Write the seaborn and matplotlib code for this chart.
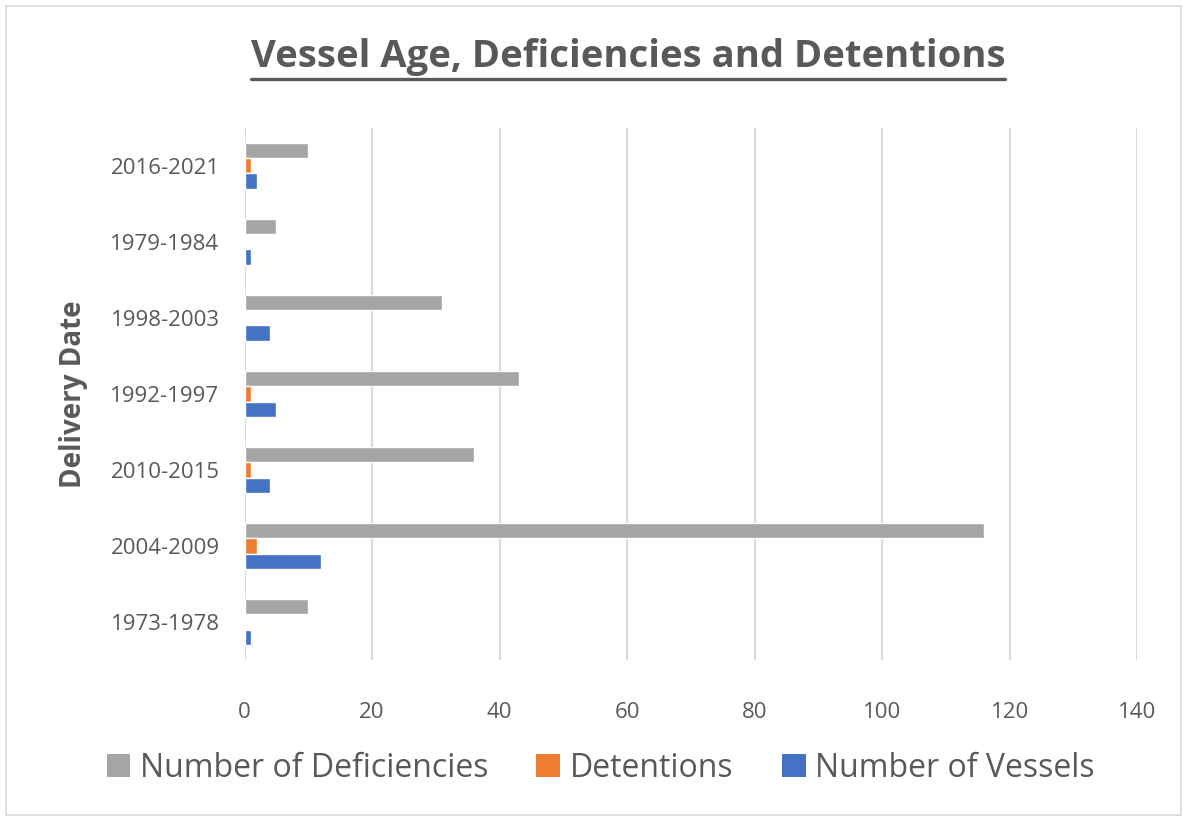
import numpy as np
import pandas as pd
import matplotlib
matplotlib.use("Agg")
import matplotlib.pyplot as plt
from matplotlib.patches import Rectangle, Patch
from matplotlib.lines import Line2D
import seaborn as sns

# Data
periods = ["2016-2021", "1979-1984", "1998-2003", "1992-1997",
           "2010-2015", "2004-2009", "1973-1978"]
deficiencies = [10, 5, 31, 43, 36, 116, 10]
detentions = [1, 0, 0, 1, 1, 2, 0]
vessels = [2, 1, 4, 5, 4, 12, 1]

series = ["Number of Deficiencies", "Detentions", "Number of Vessels"]
colors = ["#A5A5A5", "#ED7D31", "#4472C4"]

df = pd.DataFrame({
    "period": periods * 3,
    "series": np.repeat(series, len(periods)),
    "value": deficiencies + detentions + vessels,
})

sns.set_style("white")
plt.rcParams['font.family'] = ['Open Sans', 'DejaVu Sans']

fig = plt.figure(figsize=(11.87, 8.19), dpi=100)
ax = fig.add_axes([0.206, 0.194, 0.752, 0.650])

sns.barplot(data=df, y="period", x="value", hue="series", order=periods,
            hue_order=series, palette=colors, orient="h", width=0.6,
            saturation=1, ax=ax, legend=False)

ax.set_xlim(0, 140)
ax.set_xticks(range(0, 141, 20))
ax.grid(axis='x', color='#D9D9D9', linewidth=1.5)
ax.set_axisbelow(True)
for s in ax.spines.values():
    s.set_visible(False)
ax.tick_params(axis='both', length=0, labelsize=16, colors='#595959')
ax.tick_params(axis='x', pad=30)
ax.tick_params(axis='y', pad=18)
ax.set_xlabel("")
ax.set_ylabel("Delivery Date", fontsize=20, fontweight='bold', color='#595959',
              labelpad=16)

# title with underline
title = fig.text(0.529, 0.93, "Vessel Age, Deficiencies and Detentions",
                 ha='center', va='center', fontsize=27.5, fontweight='bold',
                 color='#595959')
fig.canvas.draw()
bb = title.get_window_extent().transformed(fig.transFigure.inverted())
fig.add_artist(Line2D([bb.x0, bb.x1], [bb.y0 - 0.003, bb.y0 - 0.003],
                      transform=fig.transFigure, color='#595959', linewidth=2.4))

handles = [Patch(facecolor=c, edgecolor='none') for c in colors]
fig.legend(handles, series, loc='center', bbox_to_anchor=(0.506, 0.062), ncol=3,
           frameon=False, fontsize=23, handlelength=0.75, handleheight=0.75,
           handletextpad=0.3, columnspacing=1.5, labelcolor='#595959')

# outer chart border
fig.add_artist(Rectangle((0.005, 0.005), 0.99, 0.988, transform=fig.transFigure,
                         fill=False, edgecolor='#D9D9D9', linewidth=1.2))

fig.savefig("out.png", dpi=100, facecolor='white')
